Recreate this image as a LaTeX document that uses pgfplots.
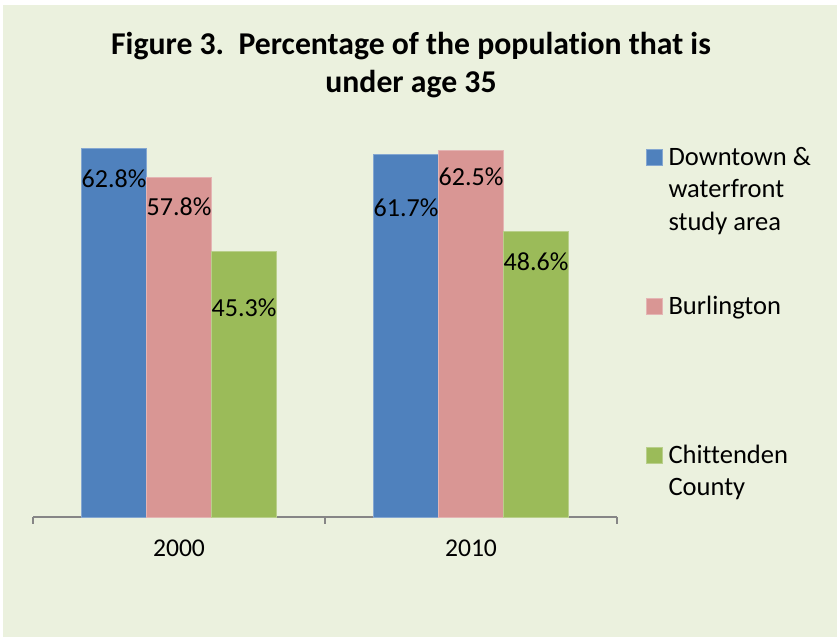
\documentclass[border=0pt]{standalone}
\usepackage{fontspec}
\setmainfont{Carlito}[Ligatures=NoCommon]
\usepackage{pgfplots}
\usepackage{pgfplotstable}
\pgfplotsset{compat=1.18}

\definecolor{bgc}{HTML}{EBF1DE}
\definecolor{serA}{HTML}{4F81BD}
\definecolor{serB}{HTML}{D99694}
\definecolor{serC}{HTML}{9BBB59}
\definecolor{axc}{HTML}{868686}

% x: year index, y: percent under 35, dy: label drop below the bar top (px)
\pgfplotstableread{
x y dy
0 62.8 30
1 61.7 53
}\downtown
\pgfplotstableread{
x y dy
0 57.8 29
1 62.5 27
}\burlington
\pgfplotstableread{
x y dy
0 45.3 57
1 48.6 30
}\chittenden

\begin{document}
\begin{tikzpicture}[x=0.75bp,y=0.75bp]
  % canvas in pixel units (origin bottom left)
  \path (0,0) rectangle (837,639);
  \fill[bgc] (3,2) rectangle (837,634);

  \node[anchor=base,font=\fontsize{23.8bp}{28bp}\selectfont\bfseries] at (411,584)
    {Figure 3.\ \ Percentage of the population that is};
  \node[anchor=base,font=\fontsize{23.8bp}{28bp}\selectfont\bfseries] at (411,546)
    {under age 35};

  \begin{axis}[
    at={(24.75bp,91.5bp)}, anchor=south west,
    scale only axis, width=438bp, height=308.25bp,
    ybar=0pt, bar width=0.2226,
    xmin=-0.5, xmax=1.5, ymin=0, ymax=70,
    axis x line=bottom, hide y axis,
    x axis line style={-, draw=axc, line width=1.1bp},
    xtick={0,1}, xticklabels={2000,2010},
    major tick length=0pt,
    extra x ticks={-0.5,0.5,1.5}, extra x tick labels={},
    extra tick style={major tick length=5.25bp, tick style={draw=axc, line width=1.1bp}},
    tick align=outside,
    xticklabel style={anchor=base, yshift=-30bp, font=\fontsize{19.2bp}{23bp}\selectfont},
    clip=false,
    point meta=y,
    visualization depends on={\thisrow{dy} \as \dy},
    nodes near coords={\pgfmathprintnumber[fixed,precision=1,fixed zerofill,assume math mode=true]{\pgfplotspointmeta}\%},
    nodes near coords style={anchor=center, yshift=-\dy*0.75bp, inner sep=0pt,
      font=\fontsize{19.5bp}{23bp}\selectfont, text=black},
    legend image code/.code={\fill[#1] (0bp,0bp) rectangle (12bp,12bp);},
    legend style={at={(rel axis cs:1.0497,0.905)}, anchor=north west,
      draw=none, fill=none, inner sep=0pt, outer sep=0pt,
      row sep=0pt, column sep=4.3bp,
      font=\fontsize{19.9bp}{24.4bp}\selectfont,
      cells={anchor=base west},
      nodes={inner sep=0pt, text height=15bp, text depth=96.75bp}},
  ]
    \addplot[fill=serA, draw=serA!70!white, line width=0.6bp] table[x=x,y=y] {\downtown};
    \addplot[fill=serB, draw=serB!70!white, line width=0.6bp] table[x=x,y=y] {\burlington};
    \addplot[fill=serC, draw=serC!70!white, line width=0.6bp] table[x=x,y=y] {\chittenden};
    \legend{{\begin{tabular}[t]{@{}l@{}}Downtown \&\\waterfront\\study area\end{tabular}},
            Burlington,
            {\begin{tabular}[t]{@{}l@{}}Chittenden\\County\end{tabular}}}
  \end{axis}
\end{tikzpicture}
\end{document}
